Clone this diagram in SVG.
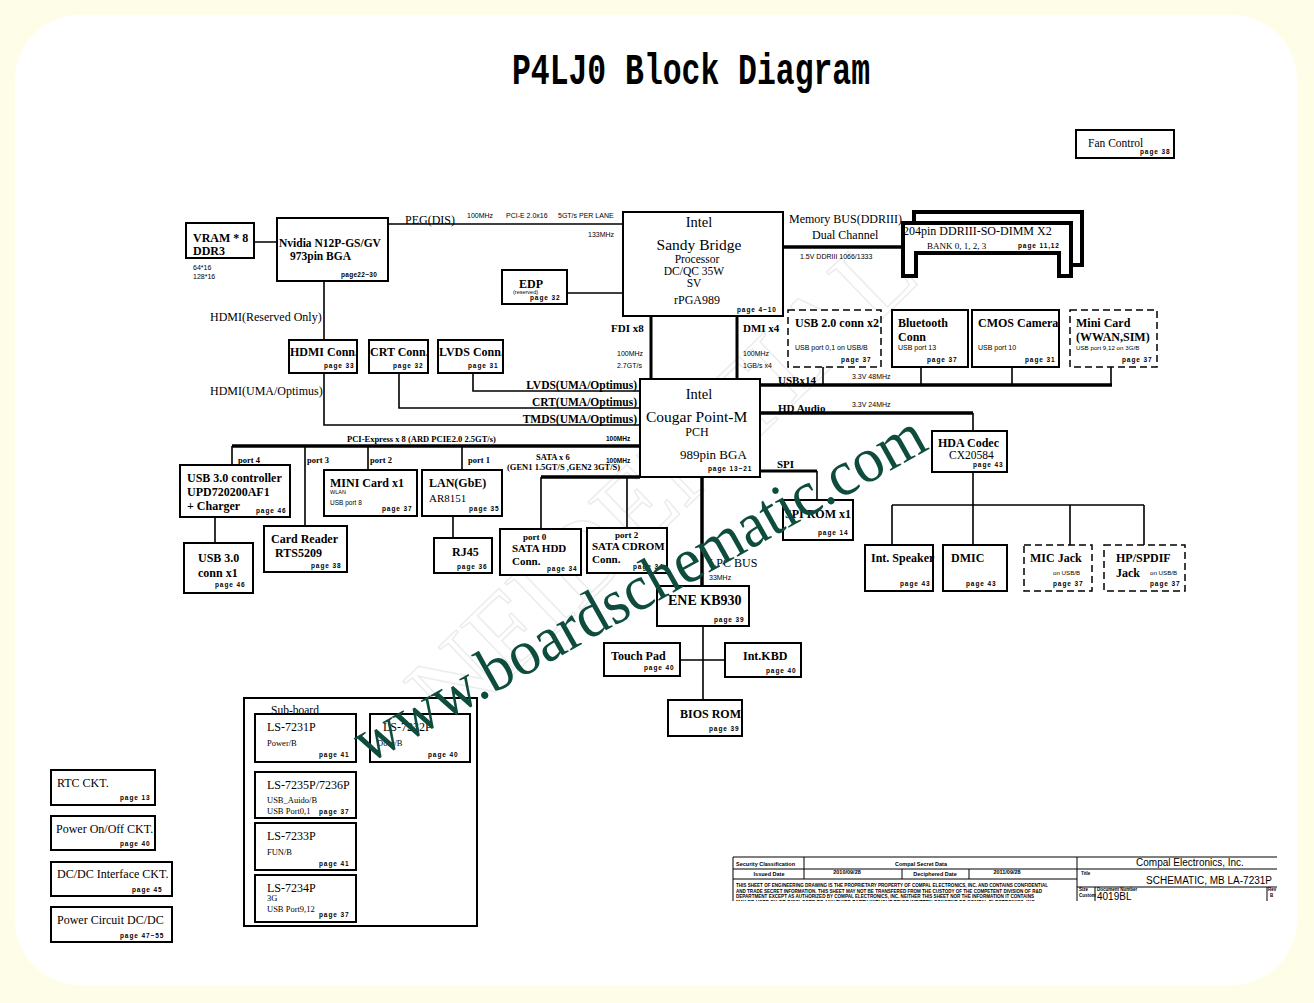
<svg xmlns="http://www.w3.org/2000/svg" width="1314" height="1003" viewBox="0 0 1314 1003">
<defs>
<style>
.box{fill:#fff;stroke:#000;stroke-width:2}
.dsh{fill:#fff;stroke:#000;stroke-width:1.5;stroke-dasharray:7 4}
.ln{fill:none;stroke:#000;stroke-width:1.6}
.bus{fill:none;stroke:#000;stroke-width:3.5}
.dimm{fill:#fff;stroke:#000;stroke-width:4}
.tbl{fill:none;stroke:#000;stroke-width:1}
text{font-family:"Liberation Serif","Times New Roman",serif;font-size:12px;fill:#000}
.b{font-weight:bold}
.pg{font-family:"Liberation Sans",Arial,sans-serif;font-size:6.5px;font-weight:bold;letter-spacing:0.9px}
.sm{font-family:"Liberation Sans",Arial,sans-serif;font-size:7px}
.xs{font-family:"Liberation Sans",Arial,sans-serif;font-size:7px}
.lab{font-size:8.5px;font-weight:bold}
.tb{font-family:"Liberation Sans",Arial,sans-serif;font-size:5.5px;font-weight:bold}
.tp{font-family:"Liberation Sans",Arial,sans-serif;font-size:4.6px;font-weight:bold}
</style>
<clipPath id="tbclip"><rect x="700" y="850" width="600" height="51"/></clipPath>
</defs>

<rect width="1314" height="1003" fill="#FDFDE8"/>
<rect x="15" y="15" width="1282" height="970" rx="65" fill="#fff"/>

<text transform="translate(340,842) rotate(-44)" style="font-size:110px;fill:none;stroke:#ececec;stroke-width:1.5" textLength="810" lengthAdjust="spacingAndGlyphs">CONFIDENTIAL</text>

<text x="512" y="84" style="font-family:'Liberation Mono',monospace;font-weight:bold;font-size:44px" textLength="358" lengthAdjust="spacingAndGlyphs">P4LJ0 Block Diagram</text>

<g id="connectors">
<path class="ln" d="M254,242 H278 M388,224 H623 M324,281 V340 M567,293 H623"/>
<path class="bus" d="M783,247 H903"/>
<path class="ln" style="stroke-width:3" d="M651,316 V379 M737,316 V379"/>
<path class="ln" d="M473,373 V391 H640 M399,373 V408 H640 M324,373 V425 H640"/>
<path class="bus" d="M232,446 H640"/>
<path class="ln" d="M232,446 V465 M305,446 V526 M368,446 V470 M462,446 V470 M215,517 V543 M453,516 V538"/>
<path class="bus" d="M541,477 H640"/>
<path class="ln" d="M541,477 V529 M627,477 V528"/>
<path class="bus" d="M702,477 V586"/>
<path class="ln" style="stroke-width:3" d="M760,471 H817"/>
<path class="ln" d="M817,471 V500"/>
<path class="bus" d="M760,385 H1112"/>
<path class="ln" d="M823,367 V385 M921,367 V385 M1012,367 V385 M1111,367 V385"/>
<path class="bus" d="M760,413 H973"/>
<path class="ln" d="M973,413 V431 M973,472 V545 M892,505 H1144 M892,505 V545 M1070,505 V545 M1144,505 V545"/>
<path class="ln" d="M703,626 V700 M680,660 H725"/>
<text x="405" y="224">PEG(DIS)</text>
<text class="sm" x="467" y="218">100MHz</text>
<text class="sm" x="506" y="218">PCI-E 2.0x16</text>
<text class="sm" x="558" y="218">5GT/s PER LANE</text>
<text class="sm" x="588" y="237">133MHz</text>
<text x="210" y="321">HDMI(Reserved Only)</text>
<text x="789" y="223">Memory BUS(DDRIII)</text>
<text x="812" y="239">Dual Channel</text>
<text class="sm" x="800" y="259">1.5V DDRIII 1066/1333</text>
<text class="b" x="611" y="332" style="font-size:11px">FDI x8</text>
<text class="b" x="743" y="332" style="font-size:11px">DMI x4</text>
<text class="sm" x="617" y="356">100MHz</text>
<text class="sm" x="617" y="368">2.7GT/s</text>
<text class="sm" x="743" y="356">100MHz</text>
<text class="sm" x="743" y="368">1GB/s x4</text>
<text x="210" y="395">HDMI(UMA/Optimus)</text>
<text class="b" x="637" y="389" text-anchor="end" style="font-size:11.5px">LVDS(UMA/Optimus)</text>
<text class="b" x="637" y="406" text-anchor="end" style="font-size:11.5px">CRT(UMA/Optimus)</text>
<text class="b" x="637" y="423" text-anchor="end" style="font-size:11.5px">TMDS(UMA/Optimus)</text>
<text class="lab" x="347" y="442">PCI-Express x 8  (ARD PCIE2.0 2.5GT/s)</text>
<text class="sm" x="606" y="441" style="font-weight:bold;font-size:6.5px">100MHz</text>
<text class="lab" x="238" y="463">port 4</text>
<text class="lab" x="307" y="463">port 3</text>
<text class="lab" x="370" y="463">port 2</text>
<text class="lab" x="468" y="463">port 1</text>
<text class="lab" x="536" y="460">SATA x 6</text>
<text class="lab" x="507" y="470">(GEN1 1.5GT/S ,GEN2 3GT/S)</text>
<text class="sm" x="606" y="463" style="font-weight:bold;font-size:6.5px">100MHz</text>
<text class="b" x="778" y="384" style="font-size:11px">USBx14</text>
<text class="sm" x="852" y="379">3.3V 48MHz</text>
<text class="b" x="778" y="412" style="font-size:11px">HD Audio</text>
<text class="sm" x="852" y="407">3.3V 24MHz</text>
<text class="b" x="777" y="468" style="font-size:11px">SPI</text>
<text x="709" y="567">LPC BUS</text>
<text class="sm" x="709" y="580">33MHz</text>
</g>

<g id="vram">
<rect class="box" x="186" y="223" width="68" height="35"/>
<text class="b" x="193" y="242">VRAM * 8</text>
<text class="b" x="193" y="255">DDR3</text>
<text class="xs" x="193" y="270">64*16</text>
<text class="xs" x="193" y="279">128*16</text>
</g>

<g id="nvidia">
<rect class="box" x="277" y="218" width="111" height="63"/>
<text class="b" x="279" y="247" style="font-size:11.5px">Nvidia N12P-GS/GV</text>
<text class="b" x="290" y="260" style="font-size:11.5px">973pin BGA</text>
<text class="pg" x="341" y="277" style="letter-spacing:0.3px">page22~30</text>
</g>

<g id="sandy-bridge">
<rect class="box" x="623" y="212" width="160" height="104"/>
<text x="699" y="227" text-anchor="middle" style="font-size:14.5px">Intel</text>
<text x="699" y="250" text-anchor="middle" style="font-size:15.5px">Sandy Bridge</text>
<text x="697" y="263" text-anchor="middle" style="font-size:11.5px">Processor</text>
<text x="694" y="275" text-anchor="middle" style="font-size:11.5px">DC/QC 35W</text>
<text x="694" y="287" text-anchor="middle" style="font-size:11.5px">SV</text>
<text x="697" y="304" text-anchor="middle">rPGA989</text>
<text class="pg" x="737" y="312">page 4~10</text>
</g>

<g id="edp">
<rect class="box" x="502" y="270" width="65" height="34"/>
<text class="b" x="531" y="288" text-anchor="middle">EDP</text>
<text class="xs" x="513" y="294" style="font-size:5.5px">(reserved)</text>
<text class="pg" x="530" y="300">page 32</text>
</g>

<g id="dimm">
<path class="dimm" d="M914,223 V212 H1082 V265 H1071"/>
<path class="dimm" d="M903,276 V223 H1071 V276 H1059 V253 H916 V276 Z"/>
<text x="903" y="235">204pin DDRIII-SO-DIMM X2</text>
<text x="927" y="249" style="font-size:9px">BANK 0, 1, 2, 3</text>
<text class="pg" x="1018" y="248">page 11,12</text>
</g>

<g id="fan-control">
<rect class="box" x="1076" y="130" width="98" height="28"/>
<text x="1088" y="147" style="font-size:11.5px">Fan Control</text>
<text class="pg" x="1140" y="154">page 38</text>
</g>

<g id="hdmi-conn">
<rect class="box" x="289" y="340" width="68" height="33"/>
<text class="b" x="290" y="356">HDMI Conn.</text>
<text class="pg" x="324" y="368">page 33</text>
</g>
<g id="crt-conn">
<rect class="box" x="369" y="340" width="59" height="33"/>
<text class="b" x="370" y="356">CRT Conn.</text>
<text class="pg" x="393" y="368">page 32</text>
</g>
<g id="lvds-conn">
<rect class="box" x="438" y="340" width="65" height="33"/>
<text class="b" x="439" y="356">LVDS Conn.</text>
<text class="pg" x="468" y="368">page 31</text>
</g>

<g id="pch">
<rect class="box" x="640" y="379" width="120" height="98"/>
<text x="699" y="399" text-anchor="middle" style="font-size:14.5px">Intel</text>
<text x="646" y="422" style="font-size:15.5px">Cougar Point-M</text>
<text x="697" y="436" text-anchor="middle">PCH</text>
<text x="680" y="459" style="font-size:13px">989pin BGA</text>
<text class="pg" x="708" y="471">page 13~21</text>
</g>

<g id="usb20-conn">
<rect class="dsh" x="788" y="310" width="93" height="57"/>
<text class="b" x="795" y="327">USB 2.0 conn x2</text>
<text class="xs" x="795" y="350">USB port 0,1 on USB/B</text>
<text class="pg" x="841" y="362">page 37</text>
</g>
<g id="bluetooth">
<rect class="box" x="892" y="310" width="76" height="57"/>
<text class="b" x="898" y="327">Bluetooth</text>
<text class="b" x="898" y="341">Conn</text>
<text class="xs" x="898" y="350">USB port 13</text>
<text class="pg" x="927" y="362">page 37</text>
</g>
<g id="cmos-camera">
<rect class="box" x="972" y="310" width="87" height="57"/>
<text class="b" x="978" y="327">CMOS Camera</text>
<text class="xs" x="978" y="350">USB port 10</text>
<text class="pg" x="1025" y="362">page 31</text>
</g>
<g id="mini-card-wwan">
<rect class="dsh" x="1070" y="310" width="87" height="57"/>
<text class="b" x="1076" y="327">Mini Card</text>
<text class="b" x="1076" y="341">(WWAN,SIM)</text>
<text class="xs" x="1076" y="350" style="font-size:6.2px">USB port 9,12 on 3G/B</text>
<text class="pg" x="1122" y="362">page 37</text>
</g>

<g id="hda-codec">
<rect class="box" x="932" y="431" width="75" height="41"/>
<text class="b" x="938" y="447">HDA Codec</text>
<text x="949" y="459" style="font-size:11.5px">CX20584</text>
<text class="pg" x="973" y="467">page 43</text>
</g>

<g id="spi-rom">
<rect class="box" x="783" y="500" width="70" height="40"/>
<text class="b" x="785" y="518">SPI ROM x1</text>
<text class="pg" x="818" y="535">page 14</text>
</g>

<g id="int-speaker">
<rect class="box" x="865" y="545" width="68" height="46"/>
<text class="b" x="871" y="562">Int. Speaker</text>
<text class="pg" x="900" y="586">page 43</text>
</g>
<g id="dmic">
<rect class="box" x="943" y="545" width="64" height="46"/>
<text class="b" x="951" y="562">DMIC</text>
<text class="pg" x="966" y="586">page 43</text>
</g>
<g id="mic-jack">
<rect class="dsh" x="1024" y="545" width="68" height="46"/>
<text class="b" x="1030" y="562">MIC Jack</text>
<text class="xs" x="1053" y="575" style="font-size:6.2px">on USB/B</text>
<text class="pg" x="1053" y="586">page 37</text>
</g>
<g id="hp-spdif-jack">
<rect class="dsh" x="1104" y="545" width="81" height="46"/>
<text class="b" x="1116" y="562">HP/SPDIF</text>
<text class="b" x="1116" y="577">Jack</text>
<text class="xs" x="1150" y="575" style="font-size:6.2px">on USB/B</text>
<text class="pg" x="1150" y="586">page 37</text>
</g>

<g id="usb30-controller">
<rect class="box" x="180" y="465" width="110" height="52"/>
<text class="b" x="187" y="482">USB 3.0 controller</text>
<text class="b" x="187" y="496">UPD720200AF1</text>
<text class="b" x="187" y="510">+ Charger</text>
<text class="pg" x="256" y="513">page 46</text>
</g>
<g id="usb30-conn">
<rect class="box" x="184" y="543" width="69" height="50"/>
<text class="b" x="198" y="562">USB 3.0</text>
<text class="b" x="198" y="577">conn x1</text>
<text class="pg" x="215" y="587">page 46</text>
</g>
<g id="card-reader">
<rect class="box" x="264" y="526" width="83" height="46"/>
<text class="b" x="271" y="543">Card Reader</text>
<text class="b" x="275" y="557">RTS5209</text>
<text class="pg" x="311" y="568">page 38</text>
</g>
<g id="mini-card-wlan">
<rect class="box" x="324" y="470" width="93" height="46"/>
<text class="b" x="330" y="487">MINI Card x1</text>
<text class="xs" x="330" y="494" style="font-size:5.5px">WLAN</text>
<text class="xs" x="330" y="505" style="font-size:6.5px">USB port 8</text>
<text class="pg" x="382" y="511">page 37</text>
</g>
<g id="lan">
<rect class="box" x="422" y="470" width="80" height="46"/>
<text class="b" x="429" y="487">LAN(GbE)</text>
<text x="429" y="502" style="font-size:11px">AR8151</text>
<text class="pg" x="469" y="511">page 35</text>
</g>
<g id="rj45">
<rect class="box" x="434" y="538" width="58" height="35"/>
<text class="b" x="452" y="556">RJ45</text>
<text class="pg" x="457" y="569">page 36</text>
</g>

<g id="sata-hdd">
<rect class="box" x="500" y="529" width="81" height="46"/>
<text class="b" x="523" y="540" style="font-size:9px">port 0</text>
<text class="b" x="512" y="552" style="font-size:11px">SATA HDD</text>
<text class="b" x="512" y="565" style="font-size:11px">Conn.</text>
<text class="pg" x="547" y="571">page 34</text>
</g>
<g id="sata-cdrom">
<rect class="box" x="587" y="528" width="80" height="45"/>
<text class="b" x="615" y="538" style="font-size:9px">port 2</text>
<text class="b" x="592" y="550" style="font-size:11px">SATA CDROM</text>
<text class="b" x="592" y="563" style="font-size:11px">Conn.</text>
<text class="pg" x="633" y="569">page 34</text>
</g>

<g id="ene-kb930">
<rect class="box" x="657" y="586" width="92" height="40"/>
<text class="b" x="668" y="605" style="font-size:14px">ENE KB930</text>
<text class="pg" x="714" y="622">page 39</text>
</g>
<g id="touch-pad">
<rect class="box" x="604" y="643" width="76" height="33"/>
<text class="b" x="611" y="660">Touch Pad</text>
<text class="pg" x="644" y="670">page 40</text>
</g>
<g id="int-kbd">
<rect class="box" x="725" y="643" width="76" height="34"/>
<text class="b" x="743" y="660">Int.KBD</text>
<text class="pg" x="766" y="673">page 40</text>
</g>
<g id="bios-rom">
<rect class="box" x="668" y="700" width="74" height="36"/>
<text class="b" x="680" y="718">BIOS ROM</text>
<text class="pg" x="709" y="731">page 39</text>
</g>

<g id="sub-board">
<rect class="box" x="244" y="698" width="233" height="228"/>
<text x="271" y="714" style="font-size:11.5px">Sub-board</text>
<rect class="box" x="255" y="714" width="101" height="48"/>
<text x="267" y="731">LS-7231P</text>
<text x="267" y="746" style="font-size:8.5px">Power/B</text>
<text class="pg" x="319" y="757">page 41</text>
<rect class="box" x="370" y="714" width="100" height="48"/>
<text x="383" y="731">LS-7232P</text>
<text x="377" y="746" style="font-size:8.5px">Door/B</text>
<text class="pg" x="428" y="757">page 40</text>
<rect class="box" x="255" y="772" width="101" height="46"/>
<text x="267" y="789">LS-7235P/7236P</text>
<text x="267" y="803" style="font-size:8.5px">USB_Auido/B</text>
<text x="267" y="814" style="font-size:8.5px">USB Port0,1</text>
<text class="pg" x="319" y="814">page 37</text>
<rect class="box" x="255" y="823" width="101" height="47"/>
<text x="267" y="840">LS-7233P</text>
<text x="267" y="855" style="font-size:8.5px">FUN/B</text>
<text class="pg" x="319" y="866">page 41</text>
<rect class="box" x="255" y="875" width="101" height="47"/>
<text x="267" y="892">LS-7234P</text>
<text x="267" y="901" style="font-size:8.5px">3G</text>
<text x="267" y="912" style="font-size:8.5px">USB Port9,12</text>
<text class="pg" x="319" y="917">page 37</text>
</g>

<g id="rtc-ckt">
<rect class="box" x="51" y="770" width="104" height="35"/>
<text x="57" y="787">RTC CKT.</text>
<text class="pg" x="120" y="800">page 13</text>
</g>
<g id="power-onoff-ckt">
<rect class="box" x="51" y="816" width="104" height="34"/>
<text x="56" y="833">Power On/Off CKT.</text>
<text class="pg" x="120" y="846">page 40</text>
</g>
<g id="dcdc-interface-ckt">
<rect class="box" x="51" y="862" width="121" height="34"/>
<text x="57" y="878">DC/DC Interface CKT.</text>
<text class="pg" x="132" y="892">page 45</text>
</g>
<g id="power-circuit">
<rect class="box" x="51" y="907" width="121" height="35"/>
<text x="57" y="924">Power Circuit DC/DC</text>
<text class="pg" x="120" y="938">page 47~55</text>
</g>

<g id="title-block" clip-path="url(#tbclip)">
<path class="tbl" d="M733,857 H1277 M733,857 V905 M733,869 H1077 M733,879 H1077 M804,857 V879 M902,869 V879 M969,869 V879 M1077,857 V905 M1077,869 H1277 M1077,887 H1277 M1095,887 V905 M1267,887 V905"/>
<text class="tb" x="736" y="866">Security Classification</text>
<text class="tb" x="921" y="866" text-anchor="middle">Compal Secret Data</text>
<text class="tb" x="769" y="876" text-anchor="middle">Issued Date</text>
<text class="tb" x="847" y="874" text-anchor="middle">2010/09/28</text>
<text class="tb" x="935" y="876" text-anchor="middle">Deciphered Date</text>
<text class="tb" x="1007" y="874" text-anchor="middle">2011/09/28</text>
<text class="tp" x="736" y="887" textLength="312" lengthAdjust="spacingAndGlyphs">THIS SHEET OF ENGINEERING DRAWING IS THE PROPRIETARY PROPERTY OF COMPAL ELECTRONICS, INC. AND CONTAINS CONFIDENTIAL</text>
<text class="tp" x="736" y="892.5" textLength="306" lengthAdjust="spacingAndGlyphs">AND TRADE SECRET INFORMATION. THIS SHEET MAY NOT BE TRANSFERED FROM THE CUSTODY OF THE COMPETENT DIVISION OF R&amp;D</text>
<text class="tp" x="736" y="898" textLength="298" lengthAdjust="spacingAndGlyphs">DEPARTMENT EXCEPT AS AUTHORIZED BY COMPAL ELECTRONICS, INC. NEITHER THIS SHEET NOR THE INFORMATION IT CONTAINS</text>
<text class="tp" x="736" y="903.5" textLength="300" lengthAdjust="spacingAndGlyphs">MAY BE USED BY OR DISCLOSED TO ANY THIRD PARTY WITHOUT PRIOR WRITTEN CONSENT OF COMPAL ELECTRONICS, INC.</text>
<text x="1190" y="866" text-anchor="middle" style="font-family:'Liberation Sans',Arial,sans-serif;font-size:10px">Compal Electronics, Inc.</text>
<text class="tb" x="1081" y="875" style="font-size:4.5px">Title</text>
<text x="1272" y="884" text-anchor="end" style="font-family:'Liberation Sans',Arial,sans-serif;font-size:10px">SCHEMATIC, MB LA-7231P</text>
<text class="tb" x="1079" y="891" style="font-size:4.5px">Size</text>
<text class="tb" x="1097" y="891" style="font-size:4.5px">Document Number</text>
<text class="tb" x="1079" y="897" style="font-size:4.5px">Custom</text>
<text x="1097" y="900" style="font-family:'Liberation Sans',Arial,sans-serif;font-size:10px">4019BL</text>
<text class="tb" x="1268" y="891" style="font-size:4.5px">Rev</text>
<text class="tb" x="1270" y="897" style="font-size:4.5px">B</text>
</g>

<text transform="translate(368,764) rotate(-29.3)" style="font-size:64px;fill:#0e4c3d" textLength="645" lengthAdjust="spacingAndGlyphs">www.boardschematic.com</text>
</svg>
